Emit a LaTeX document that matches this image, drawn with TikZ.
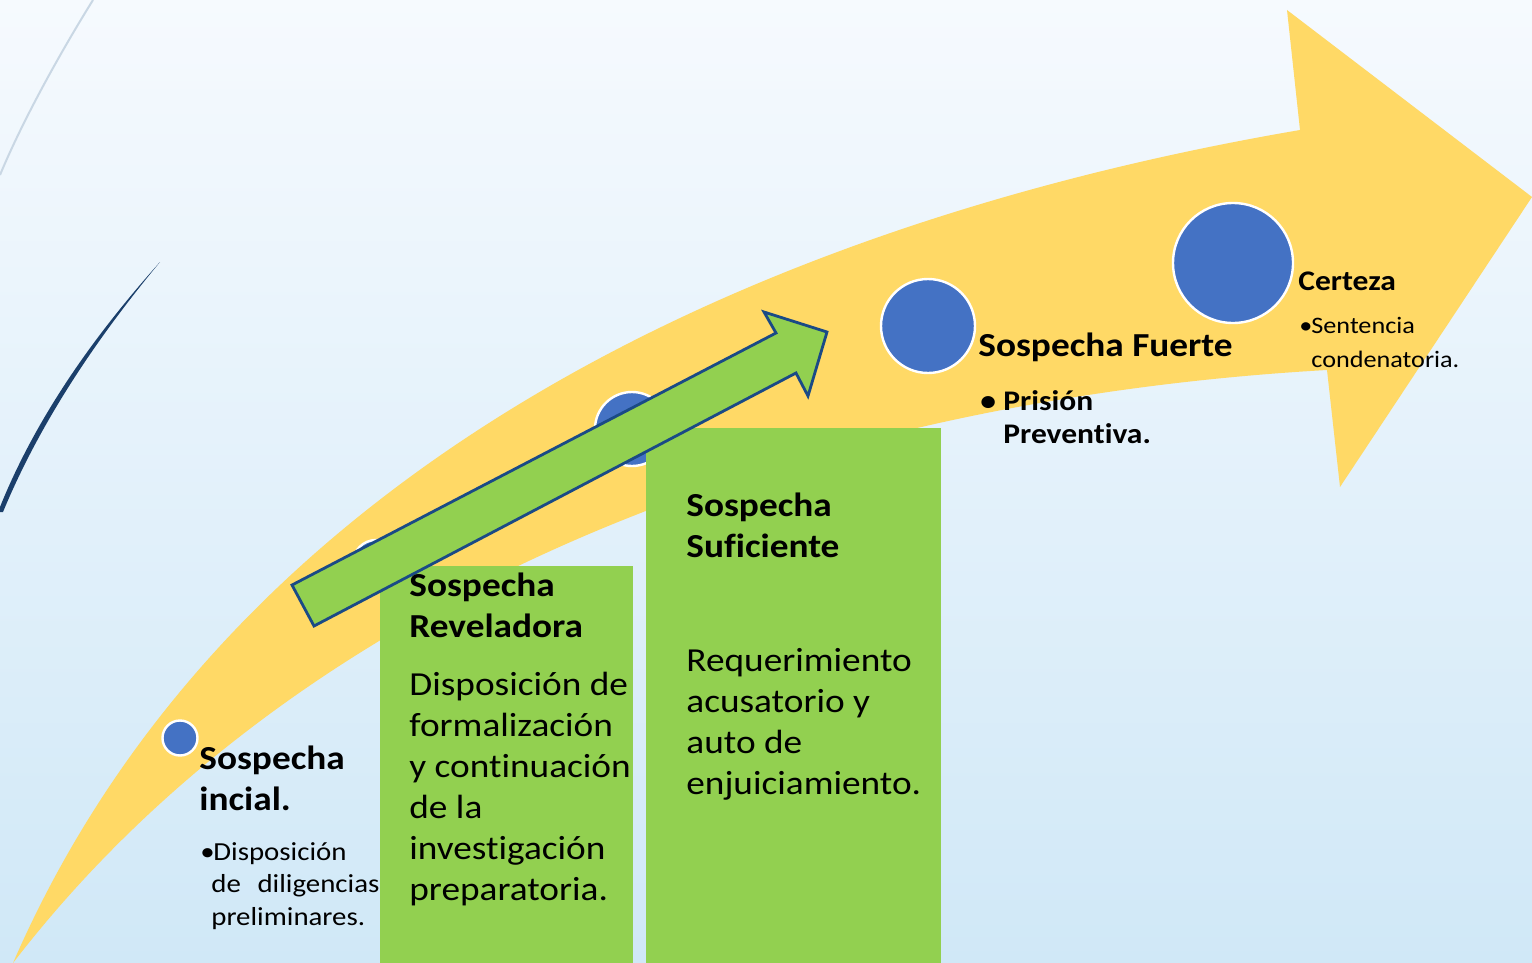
\documentclass[tikz,border=0pt]{standalone}
\usepackage{fontspec}
\setmainfont{Carlito}[FakeStretch=1.11,Ligatures=NoCommon]
\definecolor{bgtop}{HTML}{F6FAFE}
\definecolor{bgbot}{HTML}{D0E8F7}
\definecolor{gold}{HTML}{FFD966}
\definecolor{lgreen}{HTML}{92D050}
\definecolor{cblue}{HTML}{4472C4}
\definecolor{aline}{HTML}{1A4A86}
\definecolor{navy}{HTML}{1B3F6B}
\definecolor{pale}{HTML}{C9D7E4}
\begin{document}
\begin{tikzpicture}[x=0.5pt,y=-0.5pt,
  dot/.style={circle,fill=cblue,draw=white,line width=1.2pt,inner sep=0pt},
  panel/.style={fill=lgreen,inner sep=0pt,anchor=north west},
  txt/.style={anchor=base west,inner sep=0pt,align=left,text=black},
  big/.style={txt,font=\fontsize{16.8}{20.5}\selectfont},
  bigb/.style={txt,font=\fontsize{16.8}{20.5}\selectfont\bfseries},
  midb/.style={txt,font=\fontsize{14.2}{16.5}\selectfont\bfseries},
  small/.style={txt,font=\fontsize{13}{16.5}\selectfont},
  smallc/.style={txt,font=\fontsize{11.8}{17}\selectfont}
]
\useasboundingbox (0,0) rectangle (1532,963);
% background
\shade[top color=bgtop, bottom color=bgbot] (0,0) rectangle (1532,963);
% decorative curves
\draw[pale, line width=1pt] (93,0) .. controls (65,45) and (25,115) .. (0,175);
\fill[navy] (160,262) .. controls (110,318) and (40,405) .. (-2,512)
  -- (3,512) .. controls (46,408) and (112,320) .. (160,262) -- cycle;
% big curved arrow
\fill[gold] (13,963) .. controls (235,452) and (785,218) .. (1300,130)
  -- (1287,10) -- (1532,197) -- (1340,487) -- (1327,370)
  .. controls (800,400) and (300,590) .. (13,963) -- cycle;
% circles
\node[dot, minimum size=17.5pt] (c1) at (180,738) {};
\node[dot, minimum size=23pt] (c2) at (376,563) {};
\node[dot, minimum size=37pt] (c3) at (632,429) {};
\node[dot, minimum size=47pt] (c4) at (928,326) {};
\node[dot, minimum size=60pt] (c5) at (1233,263) {};
% green panels
\node[panel, minimum width=126.5pt, minimum height=198.5pt] (prev) at (380,566) {};
\node[panel, minimum width=147.5pt, minimum height=267.5pt] (psuf) at (646,428) {};
% green arrow
\draw[fill=lgreen, draw=aline, line width=1.4pt, line join=miter]
  (292,585) -- (776,333) -- (764,312) -- (827,332) -- (808,396)
  -- (796,373) -- (314,626) -- cycle;
% texts (multi-line nodes: base = last line)
\node[bigb] (t1) at (199,810) {Sospecha\\incial.};
\node[small] (b1) at (200,860) {•};
\node[small] (t1a) at (213,860) {Disposición};
\node[small] (t1b) at (211,925) {\makebox[84pt][s]{de diligencias}\\preliminares.};
% reveladora
\node[bigb] (t2) at (409,637) {Sospecha\\Reveladora};
\node[big] (t2a) at (409,900) {Disposición de\\formalización\\y continuación\\de la\\investigación\\preparatoria.};
% suficiente
\node[bigb] (t3) at (686,557) {Sospecha\\Suficiente};
\node[big] (t3a) at (686,794) {Requerimiento\\acusatorio y\\auto de\\enjuiciamiento.};
% fuerte
\node[bigb] (t4) at (978,356) {Sospecha Fuerte};
\node[midb] (b4) at (980,410) {•};
\node[midb] (t4a) at (1003,443) {Prisión\\Preventiva.};
% certeza
\node[midb] (t5) at (1298,290) {Certeza};
\node[smallc] (b5) at (1299,333) {•};
\node[smallc] (t5a) at (1311,367) {Sentencia\\condenatoria.};
\end{tikzpicture}
\end{document}
